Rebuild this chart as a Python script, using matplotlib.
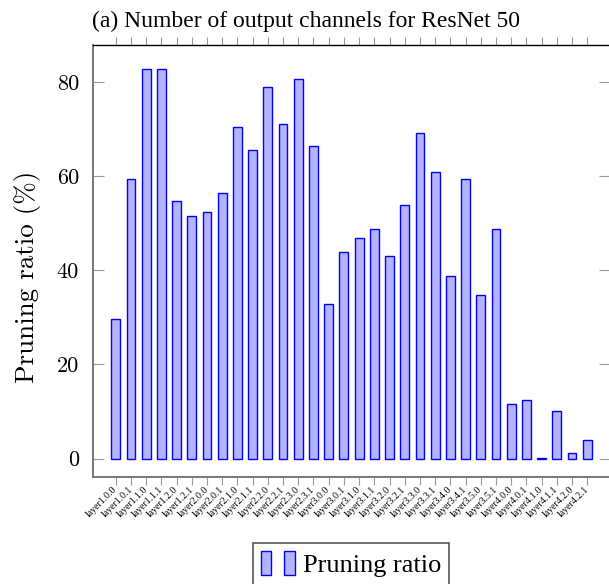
import matplotlib
matplotlib.use("Agg")
import matplotlib.pyplot as plt
from matplotlib.legend_handler import HandlerTuple

layers = ["layer1.0.0", "layer1.0.1", "layer1.1.0", "layer1.1.1", "layer1.2.0", "layer1.2.1",
          "layer2.0.0", "layer2.0.1", "layer2.1.0", "layer2.1.1", "layer2.2.0", "layer2.2.1",
          "layer2.3.0", "layer2.3.1", "layer3.0.0", "layer3.0.1", "layer3.1.0", "layer3.1.1",
          "layer3.2.0", "layer3.2.1", "layer3.3.0", "layer3.3.1", "layer3.4.0", "layer3.4.1",
          "layer3.5.0", "layer3.5.1", "layer4.0.0", "layer4.0.1", "layer4.1.0", "layer4.1.1",
          "layer4.2.0", "layer4.2.1"]
ratio = [29.7, 59.4, 82.8, 82.8, 54.7, 51.6, 52.3, 56.3, 70.3, 65.6, 78.9, 71.1,
         80.5, 66.4, 32.8, 43.8, 46.9, 48.8, 43.0, 53.9, 69.1, 60.9, 38.7, 59.4,
         34.8, 48.8, 11.7, 12.5, 0.2, 10.2, 1.2, 3.9]
yticks = [0, 20, 40, 60, 80]

serif = "Liberation Serif"
cm = "cmr10"

fig = plt.figure(figsize=(6.09, 5.84), dpi=100)
ax = fig.add_axes([93 / 609, 1 - 477 / 584, 517 / 609, 432 / 584])

x = list(range(len(layers)))
bars = ax.bar(x, ratio, width=0.58, color="#b3b3ff", edgecolor="blue", linewidth=1.0)

ax.set_xlim(-1.5, 32.5)
ax.set_ylim(-3.9, 87.8)

ax.set_xticks(x)
ax.set_xticklabels(layers, rotation=45, ha="right", va="center", rotation_mode="anchor",
                   fontsize=7, family=serif)
ax.tick_params(axis="x", direction="out", length=6, width=0.8, color="#999999",
               top=True, pad=2)
ax.set_yticks(yticks)
ax.set_yticklabels([str(v) for v in yticks], family=cm, fontsize=16)
ax.tick_params(axis="y", direction="in", length=8, width=0.8, color="#999999",
               right=True, pad=10)

for side in ["left", "bottom"]:
    ax.spines[side].set_color("#777777")
    ax.spines[side].set_linewidth(1.4)
ax.spines["top"].set_color("black")
ax.spines["top"].set_linewidth(1.0)
ax.spines["right"].set_visible(False)

ax.set_ylabel("Pruning ratio (%)", family=cm, fontsize=19.5)
ax.yaxis.set_label_coords(-0.10, 0.464)
fig.text(92 / 609, 1 - 27 / 584, "(a) Number of output channels for ResNet 50",
         family=serif, fontsize=17, ha="left", va="baseline")

leg = fig.legend([(bars[0], bars[1])], ["Pruning ratio"], loc="upper center",
                 bbox_to_anchor=(351 / 609, 1 - 543 / 584), borderaxespad=0,
                 handler_map={tuple: HandlerTuple(ndivide=None, pad=0.5)},
                 prop={"family": serif, "size": 19}, fancybox=False,
                 edgecolor="#555555", framealpha=1, handlelength=1.3,
                 handleheight=1.0, handletextpad=0.3, borderpad=0.3)
leg.get_frame().set_linewidth(1.2)

fig.savefig("out.png", dpi=100)
